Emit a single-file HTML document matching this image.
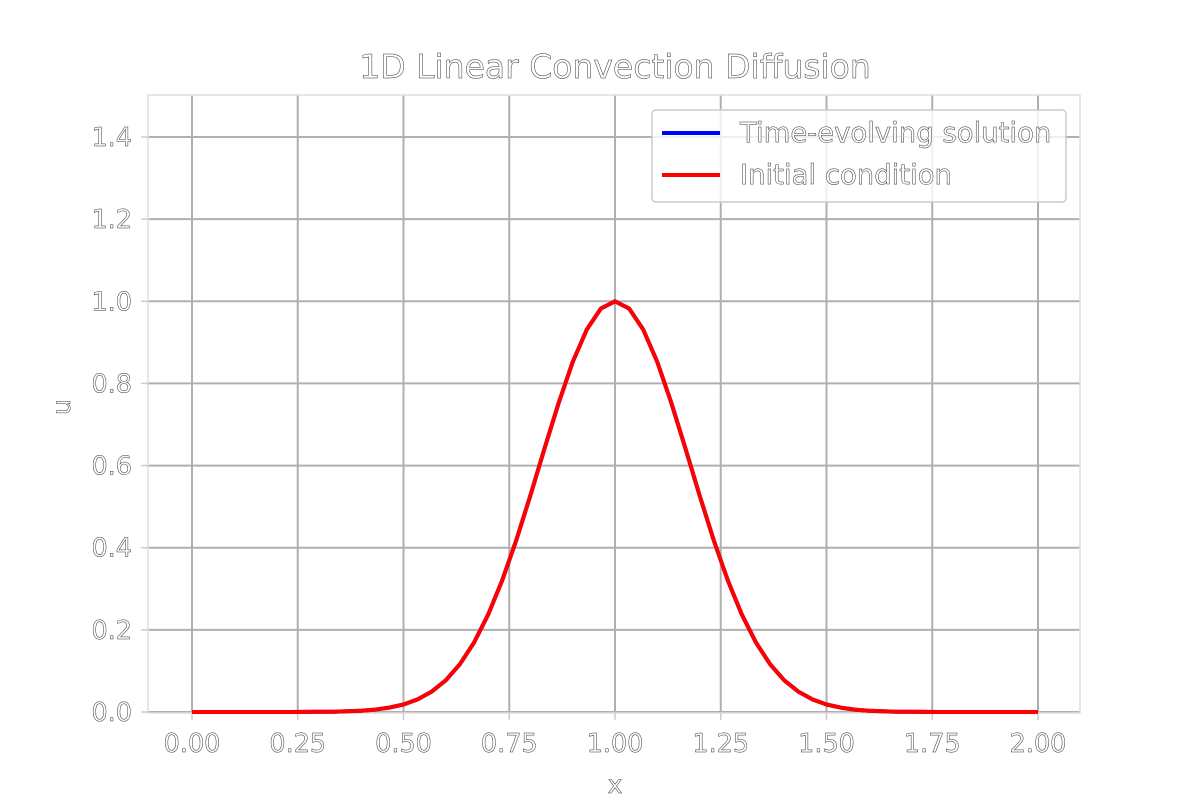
<!DOCTYPE html>
<html><head><meta charset="utf-8"><style>
html,body{margin:0;padding:0;background:#fff;}
svg text{font-family:"DejaVu Sans","Liberation Sans",sans-serif;fill:#fff;stroke:#333;stroke-width:0.5px;}
</style></head><body>
<svg id="chart" width="1200" height="800" xmlns="http://www.w3.org/2000/svg">
<rect width="1200" height="800" fill="#fff"/>
<g id="grid"></g>
<rect x="148" y="95" width="932" height="618" fill="none" stroke="#ddd" stroke-width="1.5"/>
<g id="ticks"></g>
<g id="series"></g>
<text x="615" y="78" font-size="33" text-anchor="middle">1D Linear Convection Diffusion</text>
<text x="615" y="793" font-size="25" text-anchor="middle">x</text>
<text x="70" y="407" font-size="25" text-anchor="middle" transform="rotate(-90 70 407)">u</text>
<g>
<rect x="652" y="110" width="414" height="92" rx="4" fill="#fff" fill-opacity="0.8" stroke="#ccc" stroke-width="1.5"/>
<line x1="662" y1="133" x2="720" y2="133" stroke="#0000ff" stroke-width="4"/>
<text x="740" y="142" font-size="27.5">Time-evolving solution</text>
<line x1="662" y1="175" x2="720" y2="175" stroke="#ff0000" stroke-width="4"/>
<text x="740" y="184" font-size="27.5">Initial condition</text>
</g>
</svg>
<script>
const xTicks=[0,0.25,0.5,0.75,1.0,1.25,1.5,1.75,2.0];
const xTickLabels=["0.00","0.25","0.50","0.75","1.00","1.25","1.50","1.75","2.00"];
const yTicks=[0,0.2,0.4,0.6,0.8,1.0,1.2,1.4];
const yTickLabels=["0.0","0.2","0.4","0.6","0.8","1.0","1.2","1.4"];
const xValues=[0,0.0333,0.0667,0.1,0.1333,0.1667,0.2,0.2333,0.2667,0.3,0.3333,0.3667,0.4,0.4333,0.4667,0.5,0.5333,0.5667,0.6,0.6333,0.6667,0.7,0.7333,0.7667,0.8,0.8333,0.8667,0.9,0.9333,0.9667,1.0,1.0333,1.0667,1.1,1.1333,1.1667,1.2,1.2333,1.2667,1.3,1.3333,1.3667,1.4,1.4333,1.4667,1.5,1.5333,1.5667,1.6,1.6333,1.6667,1.7,1.7333,1.7667,1.8,1.8333,1.8667,1.9,1.9333,1.9667,2.0];
const uInitial=[0,0,0,0,0,0,0,0.0001,0.0002,0.0004,0.0008,0.0016,0.0032,0.0058,0.0106,0.0183,0.0307,0.0496,0.0773,0.1163,0.1690,0.2369,0.3205,0.4185,0.5273,0.6412,0.7520,0.8521,0.9314,0.9824,1.0,0.9824,0.9314,0.8521,0.7520,0.6412,0.5273,0.4185,0.3205,0.2369,0.1690,0.1163,0.0773,0.0496,0.0307,0.0183,0.0106,0.0058,0.0032,0.0016,0.0008,0.0004,0.0002,0.0001,0,0,0,0,0,0,0];
const uSolution=uInitial.slice();
const NS="http://www.w3.org/2000/svg";
const X=v=>192+(1038-192)*v/2;
const Y=v=>712-(712-137)*v/1.4;
const grid=document.getElementById('grid'),ticks=document.getElementById('ticks'),series=document.getElementById('series');
function mk(t,a,p){const e=document.createElementNS(NS,t);for(const k in a)e.setAttribute(k,a[k]);p.appendChild(e);return e;}
xTicks.forEach((v,i)=>{
 const g=mk('line',{x1:X(v),x2:X(v),y1:95,y2:713,stroke:'#b0b0b0','stroke-width':2},grid);
 
 
 mk('line',{x1:X(v),x2:X(v),y1:713,y2:720,stroke:'#ccc','stroke-width':1.5},ticks);
 const t=mk('text',{x:X(v),y:752,'font-size':25.5,'text-anchor':'middle'},ticks);
 t.textContent=xTickLabels[i];
 
 
});
yTicks.forEach((v,i)=>{
 const g=mk('line',{x1:148,x2:1080,y1:Y(v),y2:Y(v),stroke:'#b0b0b0','stroke-width':2},grid);
 
 
 mk('line',{x1:141,x2:148,y1:Y(v),y2:Y(v),stroke:'#ccc','stroke-width':1.5},ticks);
 const t=mk('text',{x:132,y:Y(v)+9,'font-size':25.5,'text-anchor':'end'},ticks);
 t.textContent=yTickLabels[i];
 
 
});
function pts(arr){return arr.map((u,i)=>X(xValues[i]).toFixed(1)+','+Y(u).toFixed(1)).join(' ');}
const s=mk('polyline',{points:pts(uSolution),fill:'none',stroke:'#0000ff','stroke-width':4,'stroke-linejoin':'round'},series);


const r=mk('polyline',{points:pts(uInitial),fill:'none',stroke:'#ff0000','stroke-width':4,'stroke-linejoin':'round'},series);


</script>
</body></html>
